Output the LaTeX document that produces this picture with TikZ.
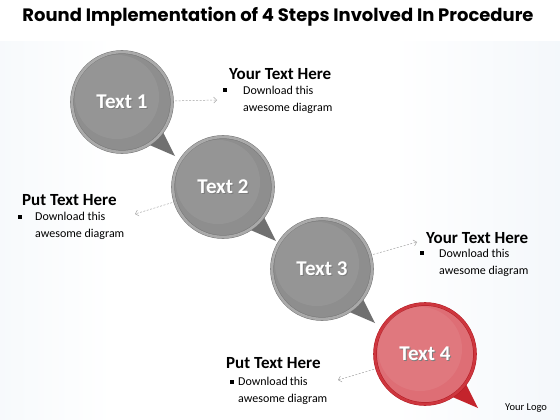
\documentclass[tikz,border=0pt]{standalone}
\usepackage{fontspec}
\setmainfont{Carlito}
\newfontfamily\titlefont{Poppins}
\usepackage{tikz}
\usetikzlibrary{arrows.meta, calc, positioning}
\pgfdeclarelayer{bg}
\pgfdeclarelayer{back}
\pgfsetlayers{bg,back,main}

\definecolor{bgblue}{RGB}{226,235,244}
\definecolor{bodygray}{RGB}{142,142,142}
\definecolor{ringgray}{RGB}{170,170,170}
\definecolor{edgegray}{RGB}{118,118,118}
\definecolor{tailgray}{RGB}{112,112,112}
\definecolor{bodyred}{RGB}{222,110,117}
\definecolor{ringred}{RGB}{206,54,62}
\definecolor{edgered}{RGB}{178,30,38}
\definecolor{tailred}{RGB}{196,36,44}

\pgfdeclarehorizontalshading{pagebg}{100bp}{%
  color(0bp)=(bgblue); color(35bp)=(white); color(60bp)=(white); color(100bp)=(bgblue)}

\tikzset{
  bubble/.style={circle, minimum size=100pt, inner sep=0pt, fill=bodygray,
    draw=edgegray, double=ringgray, double distance=2.6pt, line width=0.5pt,
    text=white, font=\fontsize{21}{21}\selectfont\bfseries},
  redbubble/.style={bubble, fill=bodyred, draw=edgered, double=ringred},
  heading/.style={anchor=west, inner sep=0pt, font=\fontsize{17}{17}\selectfont\bfseries},
  bullettext/.style={anchor=north west, inner sep=0pt, align=left,
    font=\fontsize{12}{17}\selectfont},
  dot/.style={fill=black, minimum size=3.2pt, inner sep=0pt},
  link/.style={dashed, dash pattern=on 2pt off 1.5pt, gray!70, line width=0.5pt,
    -{Straight Barb[length=3pt, width=6pt]}, shorten <=3pt},
}
\newcommand{\shtext}[1]{\makebox[0pt][l]{\kern0.9pt\raisebox{-0.9pt}{\color{black!55}#1}}#1}

\begin{document}
\begin{tikzpicture}[x=1pt, y=-1pt]
\useasboundingbox (0,0) rectangle (560,420);

% background
\begin{pgfonlayer}{bg}
  \fill[white] (0,0) rectangle (560,42);
  \shade[shading=pagebg] (0,42) rectangle (560,420);
\end{pgfonlayer}

% title
\node (title) at (278,17) {\resizebox{511pt}{!}{\titlefont\bfseries Round Implementation of 4 Steps Involved In Procedure}};

% bubbles
\node[bubble] (s1) at (122,102) {\shtext{Text 1}};
\node[bubble] (s2) at (223,187) {\shtext{Text 2}};
\node[bubble] (s3) at (322,269) {\shtext{Text 3}};
\node[redbubble] (s4) at (425,354) {\shtext{Text 4}};

% highlights
\foreach \i in {1,2,3,4}
  \fill[white, opacity=0.07] ($(s\i.center)+(-5,-5)$) circle (42);

% tails
\begin{pgfonlayer}{back}
  \foreach \i/\c in {1/tailgray, 2/tailgray, 3/tailgray, 4/tailred} {
    \coordinate (tip\i) at ($(s\i.center)+(53,54)$);
    \fill[\c] (s\i.-58) -- (tip\i) -- (s\i.-36) -- cycle;
  }
\end{pgfonlayer}

% text blocks
\node[heading] (h1) at (229,74) {Your Text Here};
\node[dot] (b1) at (225,90) {};
\node[bullettext] (d1) at (243,86) {Download this\\awesome diagram};
\coordinate (a1) at (217,100);

\node[heading] (h2) at (22,200) {Put Text Here};
\node[dot] (b2) at (20,217) {};
\node[bullettext] (d2) at (35,212) {Download this\\awesome diagram};
\coordinate (a2) at (135,214);

\node[heading] (h3) at (426,238) {Your Text Here};
\node[dot] (b3) at (422,253) {};
\node[bullettext] (d3) at (439,249) {Download this\\awesome diagram};
\coordinate (a3) at (417,242);

\node[heading] (h4) at (226,363) {Put Text Here};
\node[dot] (b4) at (232,382) {};
\node[bullettext] (d4) at (238,377) {Download\,this\\awesome diagram};
\coordinate (a4) at (338,380);

% dashed pointers
\draw[link] (s1) -- (a1);
\draw[link] (s2) -- (a2);
\draw[link] (s3) -- (a3);
\draw[link] (s4) -- (a4);

\node[anchor=west, inner sep=0pt, font=\fontsize{10.5}{10.5}\selectfont] (logo) at (505,408) {Your Logo};
\end{tikzpicture}
\end{document}
